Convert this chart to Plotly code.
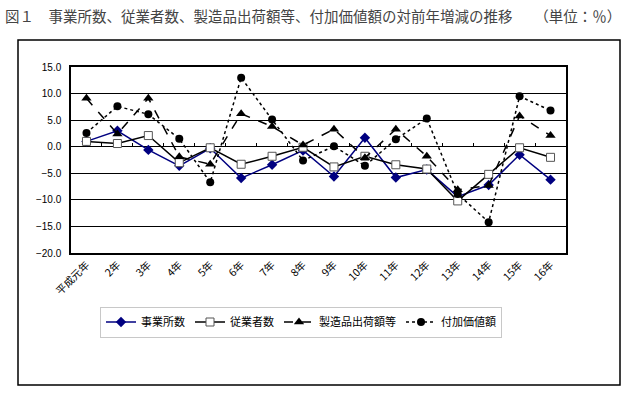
import plotly.graph_objects as go

categories = ["平成元年", "2年", "3年", "4年", "5年", "6年", "7年", "8年",
              "9年", "10年", "11年", "12年", "13年", "14年", "15年", "16年"]
establishments = [1.0, 3.0, -0.6, -3.6, -0.3, -5.9, -3.4, -0.7,
                  -5.6, 1.7, -5.8, -4.3, -9.4, -7.2, -1.5, -6.2]
employees = [1.0, 0.6, 2.1, -3.0, -0.2, -3.3, -1.8, -0.1,
             -3.8, -1.8, -3.4, -4.2, -10.2, -5.2, -0.2, -2.0]
shipments = [9.1, 2.4, 9.1, -1.9, -3.3, 6.2, 3.8, 0.3,
             3.3, -2.1, 3.3, -1.8, -8.1, -7.3, 5.8, 2.1]
value_added = [2.6, 7.6, 6.1, 1.5, -6.7, 13.0, 5.1, -2.6,
               0.1, -3.6, 1.4, 5.3, -8.9, -14.2, 9.5, 6.8]
series_names = ["事業所数", "従業者数", "製造品出荷額等", "付加価値額"]
y_ticks = [15, 10, 5, 0, -5, -10, -15, -20]
title_text = "図１　事業所数、従業者数、製造品出荷額等、付加価値額の対前年増減の推移　　（単位：％）"

x_idx = list(range(len(categories)))
jp = "Noto Sans CJK JP"

fig = go.Figure()
fig.add_trace(go.Scatter(
    x=x_idx, y=establishments, name=series_names[0], mode="lines+markers",
    line=dict(color="#000080", width=1.5),
    marker=dict(symbol="diamond", size=8, color="#000080")))
fig.add_trace(go.Scatter(
    x=x_idx, y=employees, name=series_names[1], mode="lines+markers",
    line=dict(color="#000000", width=1.5),
    marker=dict(symbol="square", size=8, color="white",
                line=dict(color="#555555", width=1))))
fig.add_trace(go.Scatter(
    x=x_idx, y=shipments, name=series_names[2], mode="lines+markers",
    line=dict(color="#000000", width=1.5, dash="dash"),
    marker=dict(symbol="triangle-up", size=9, color="#000000")))
fig.add_trace(go.Scatter(
    x=x_idx, y=value_added, name=series_names[3], mode="lines+markers",
    line=dict(color="#000000", width=1.5, dash="dot"),
    marker=dict(symbol="circle", size=8, color="#000000")))
# invisible trace carrying the zero-line tick axis
fig.add_trace(go.Scatter(x=[x_idx[0]], y=[0], xaxis="x2", mode="markers",
                         marker=dict(opacity=0), showlegend=False, hoverinfo="skip"))

W, H = 638, 396
L, R, T, B = 71, 566, 67, 253
pw, ph = R - L, B - T

fig.update_layout(
    width=W, height=H,
    margin=dict(l=L, r=W - R, t=T, b=H - B),
    paper_bgcolor="white", plot_bgcolor="white",
    title=dict(text=title_text, x=5 / W, xanchor="left", y=1 - 17 / H, yanchor="middle",
               font=dict(family=jp, size=14.5, color="#444444")),
    showlegend=True,
    legend=dict(orientation="h", x=(301 - L) / pw, xanchor="center",
                y=(B - 322) / ph, yanchor="middle",
                bordercolor="#c8c8c8", borderwidth=1, bgcolor="white",
                font=dict(family=jp, size=11, color="#000000"),
                itemwidth=30, tracegroupgap=0),
    xaxis=dict(range=[-0.5, len(categories) - 0.5], tickvals=x_idx, ticktext=categories,
               tickangle=-45, ticks="", showgrid=False, zeroline=False,
               showline=True, linecolor="black", linewidth=1.5, mirror=True,
               tickfont=dict(family=jp, size=10.5, color="#000000")),
    xaxis2=dict(overlaying="x", anchor="free", position=20 / 35,
                range=[-0.5, len(categories) - 0.5],
                tickvals=[i + 0.5 for i in x_idx[:-1]], ticks="inside", ticklen=4,
                tickcolor="black", tickwidth=1, showticklabels=False,
                showgrid=False, zeroline=False, showline=False),
    yaxis=dict(range=[-20, 15], tickvals=y_ticks, tickformat=".1f",
               showgrid=True, gridcolor="black", gridwidth=1.3, zeroline=False,
               showline=True, linecolor="black", linewidth=1.5, mirror=True,
               ticks="", ticklabelstandoff=6,
               tickfont=dict(family="Arial", size=10, color="#000000")),
    shapes=[dict(type="rect", xref="paper", yref="paper",
                 x0=(18 - L) / pw, x1=(620 - L) / pw,
                 y0=(B - 385) / ph, y1=(B - 40) / ph,
                 line=dict(color="black", width=1.5), fillcolor="rgba(0,0,0,0)",
                 layer="below")],
)

fig.write_html("out.html", config={"displayModeBar": False},
               post_script="document.body.style.margin='0';document.body.style.padding='0';")
